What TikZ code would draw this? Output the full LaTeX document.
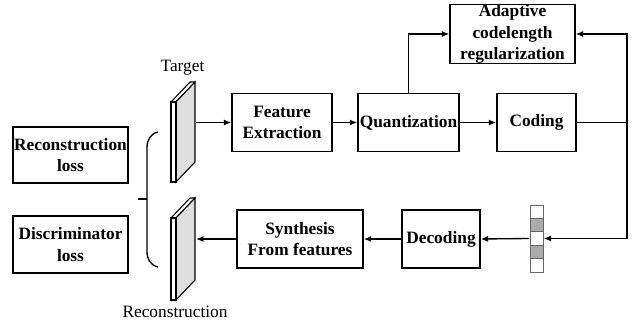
\documentclass[tikz,border=0pt]{standalone}
\usepackage{fontspec}
\setmainfont{Liberation Serif}
\usetikzlibrary{arrows.meta}

\tikzset{every picture/.style={line width=1pt}}
\tikzset{
  blk/.style={draw, line width=1.1pt, align=center, inner sep=0pt, font=\fontsize{13}{16}\selectfont\bfseries},
  lbl/.style={inner sep=0pt, font=\fontsize{13}{16}\selectfont},
  arr/.style={-{Latex[length=5.5pt,width=4.5pt]}},
  slabface/.style={draw, line width=0.8pt, fill=white},
  slabside/.style={draw, line width=0.8pt, fill=black!13}
}

\begin{document}
\begin{tikzpicture}[x=0.75pt,y=0.75pt,yscale=-1,xscale=1]
    \useasboundingbox (0,0) rectangle (644,324);

    % Blocks
    \node [blk, minimum width=75pt, minimum height=43.5pt] (fe) at (282,122.5) {Feature\\Extraction};
    \node [blk, minimum width=75.75pt, minimum height=43.5pt] (qz) at (408.5,122.5) {Quantization};
    \node [blk, minimum width=59.25pt, minimum height=43.5pt] (cd) at (536.5,122.5) {Coding};
    \node [blk, minimum width=93.75pt, minimum height=43.5pt] (acr) at (512.5,34) {Adaptive\\codelength\\regularization};
    \node [blk, minimum width=58.5pt, minimum height=43.5pt] (dc) at (441,239) {Decoding};
    \node [blk, minimum width=94.5pt, minimum height=43.5pt] (syn) at (300,239) {Synthesis\\From features};
    \node [blk, minimum width=86.25pt, minimum height=42pt] (rl) at (70.5,155) {Reconstruction\\loss};
    \node [blk, minimum width=86.25pt, minimum height=42.75pt] (dl) at (70.5,244.5) {Discriminator\\loss};

    % Slabs
    \draw [slabface] (171,102) -- (190,82) -- (195,82) -- (176,102) -- cycle ;
    \draw [slabside] (176,102) -- (195,82) -- (195,162) -- (176,182) -- cycle ;
    \draw [slabface] (171,102) rectangle (176,182) ;
    \draw [slabface] (171,218) -- (190,198) -- (195,198) -- (176,218) -- cycle ;
    \draw [slabside] (176,218) -- (195,198) -- (195,280) -- (176,300) -- cycle ;
    \draw [slabface] (171,218) rectangle (176,300) ;
    \coordinate (tgt) at (196,122.5);
    \coordinate (rec) at (196,239);
    \node [lbl] (tgtlbl) at (182.5,68) {Target};
    \node [lbl] (reclbl) at (175,312) {Reconstruction};

    % Code vector
    \node [minimum width=9.75pt, minimum height=50.25pt, inner sep=0pt] (vec) at (536.5,238.5) {};
    \foreach \i/\c in {0/white,1/black!33,2/white,3/black!33,4/white}
      \draw [line width=0.6pt, draw=black!60, fill=\c] (530,205+13.4*\i) rectangle (543,205+13.4*\i+13.4) ;

    % Brace
    \draw (158,132) .. controls (150,134) and (147,140) .. (147,148) -- (147,251) .. controls (147,259) and (150,265) .. (158,267) ;
    \draw (138,199) -- (147,199) ;

    % Connectors
    \draw [arr] (tgt) -- (fe) ;
    \draw [arr] (fe) -- (qz) ;
    \draw [arr] (qz) -- (cd) ;
    \draw [arr] (qz.north) |- (acr.west) ;
    \coordinate (rt) at (627,122.5);
    \draw [arr] (cd.east) -- (rt) |- (acr.east) ;
    \draw [arr] (rt) |- (vec.east) ;
    \draw [arr] (vec.west) -- (dc.east) ;
    \draw [arr] (dc) -- (syn) ;
    \draw [arr] (syn.west) -- (rec) ;

\end{tikzpicture}
\end{document}
